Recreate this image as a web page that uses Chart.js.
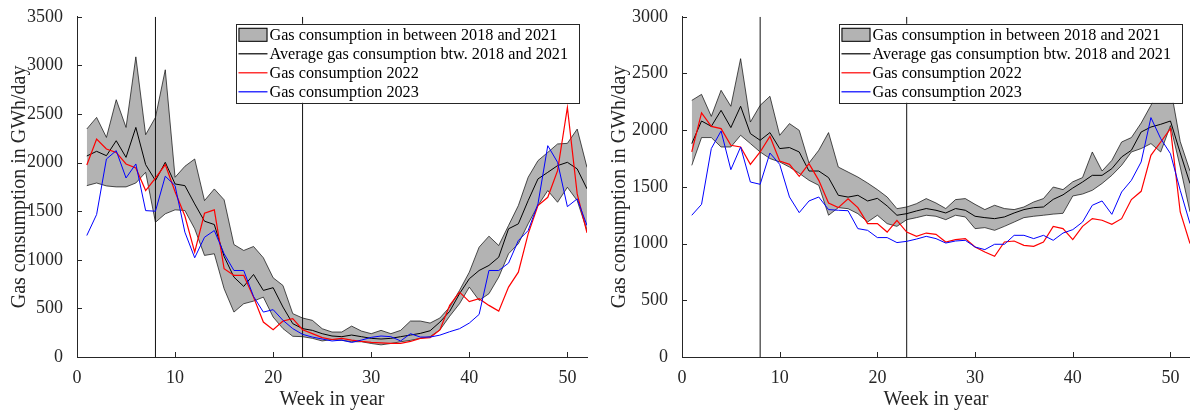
<!DOCTYPE html>
<html>
<head>
<meta charset="utf-8">
<title>Gas consumption per week</title>
<script src="https://cdn.jsdelivr.net/npm/chart.js@4.4.1/dist/chart.umd.min.js"></script>
<style>
  body { margin: 0; background: #fff; }
  #wrap { position: relative; width: 1190px; height: 412px; }
  canvas { position: absolute; top: 0; }
  #leftChart { left: 0; }
  #rightChart { left: 595px; }
</style>
</head>
<body>
<div id="wrap">
  <canvas id="leftChart" width="595" height="412"></canvas>
  <canvas id="rightChart" width="595" height="412"></canvas>
</div>
<script>
var weeks = [1, 2, 3, 4, 5, 6, 7, 8, 9, 10, 11, 12, 13, 14, 15, 16, 17, 18, 19, 20, 21, 22, 23, 24, 25, 26,
  27, 28, 29, 30, 31, 32, 33, 34, 35, 36, 37, 38, 39, 40, 41, 42, 43, 44, 45, 46, 47, 48, 49, 50, 51, 52];
var xTicks = [0, 10, 20, 30, 40, 50];
var leftYTicks = [0, 500, 1000, 1500, 2000, 2500, 3000, 3500];
var rightYTicks = [0, 500, 1000, 1500, 2000, 2500, 3000];
var markerWeeks = [8, 23];
var legendLabels = [
  "Gas consumption in between 2018 and 2021",
  "Average gas consumption btw. 2018 and 2021",
  "Gas consumption 2022",
  "Gas consumption 2023"
];

// LEFT PANEL
var leftMax = [2346, 2465, 2259, 2647, 2362, 3088, 2287, 2465, 2955, 1849, 1962, 2037, 1609, 1729, 1617, 1157, 1096, 1137, 1021, 815,
  736, 446, 401, 377, 291, 257, 257, 318, 267, 240, 274, 240, 274, 370, 370, 349, 401, 514, 685, 873,
  1130, 1243, 1147, 1353, 1558, 1849, 2020, 2105, 2192, 2198, 2345, 1951];
var leftAvg = [2068, 2116, 2071, 2225, 2054, 2362, 1979, 1815, 2003, 1780, 1763, 1575, 1397, 1363, 1034, 822, 726, 849, 685, 713,
  514, 343, 292, 274, 240, 216, 209, 226, 209, 192, 185, 192, 209, 226, 243, 270, 359, 470, 651, 805,
  890, 942, 1027, 1319, 1370, 1609, 1832, 1900, 1969, 2003, 1935, 1730];
var leftMin = [1763, 1790, 1760, 1750, 1750, 1790, 1900, 1386, 1473, 1514, 1507, 1319, 1045, 1062, 702, 462, 548, 575, 616, 411,
  292, 213, 209, 192, 165, 180, 171, 157, 157, 139, 125, 139, 157, 171, 192, 209, 278, 420, 548, 719,
  582, 651, 822, 1062, 1165, 1370, 1558, 1712, 1592, 1746, 1609, 1301];
var left2022 = [1976, 2243, 2140, 2105, 1986, 1945, 1712, 1840, 1979, 1700, 1450, 1078, 1479, 1514, 908, 839, 839, 616, 360, 281,
  370, 394, 281, 240, 200, 180, 192, 174, 160, 150, 145, 140, 140, 160, 192, 200, 278, 531, 668, 570,
  600, 531, 472, 719, 873, 1267, 1558, 1643, 1917, 2567, 1678, 1278];
var left2023 = [1250, 1466, 2037, 2123, 1842, 1986, 1506, 1500, 1860, 1763, 1284, 1021, 1232, 1301, 1062, 890, 890, 623, 462, 487,
  377, 292, 233, 205, 185, 165, 174, 150, 174, 202, 216, 209, 165, 240, 205, 205, 225, 260, 291, 349,
  438, 890, 890, 966, 1198, 1301, 1575, 2174, 2003, 1547, 1627, 1353];

// RIGHT PANEL
var rightMax = [2263, 2316, 2122, 2352, 2211, 2631, 2072, 2219, 2299, 1955, 2058, 1999, 1711, 1823, 1979, 1675, 1631, 1587, 1534, 1476,
  1411, 1308, 1323, 1352, 1397, 1358, 1309, 1388, 1397, 1346, 1300, 1338, 1309, 1300, 1323, 1367, 1397, 1499, 1476, 1545,
  1582, 1808, 1640, 1734, 1896, 1935, 2063, 2219, 2400, 2380, 1900, 1640];
var rightAvg = [1882, 2081, 2034, 2175, 2023, 2211, 1970, 1911, 1979, 1838, 1847, 1808, 1640, 1640, 1582, 1426, 1410, 1426, 1376, 1399,
  1332, 1250, 1264, 1288, 1309, 1294, 1270, 1309, 1294, 1241, 1229, 1220, 1235, 1270, 1300, 1317, 1323, 1390, 1430, 1490,
  1543, 1602, 1602, 1661, 1764, 1823, 1984, 2028, 2052, 2081, 1800, 1530];
var rightMin = [1690, 1935, 1935, 1852, 1852, 1955, 1882, 1808, 1750, 1720, 1675, 1620, 1558, 1514, 1250, 1317, 1308, 1264, 1191, 1250,
  1176, 1152, 1211, 1229, 1250, 1241, 1211, 1250, 1235, 1132, 1141, 1117, 1152, 1190, 1229, 1241, 1250, 1260, 1267, 1420,
  1437, 1470, 1530, 1602, 1690, 1808, 1838, 1882, 1808, 2040, 1675, 1280];
var right2022 = [1808, 2152, 2034, 2014, 1867, 1852, 1699, 1808, 1946, 1728, 1699, 1593, 1705, 1558, 1358, 1317, 1396, 1317, 1176, 1176,
  1102, 1205, 1102, 1064, 1093, 1082, 1014, 1035, 1044, 970, 926, 888, 1014, 1023, 985, 976, 1014, 1152, 1132, 1035,
  1152, 1220, 1206, 1170, 1220, 1388, 1461, 1778, 1896, 2014, 1279, 1000];
var right2023 = [1250, 1346, 1838, 1993, 1652, 1852, 1543, 1523, 1799, 1699, 1411, 1273, 1376, 1411, 1300, 1294, 1290, 1132, 1117, 1053,
  1053, 1009, 1020, 1040, 1064, 1044, 1005, 1023, 1029, 970, 947, 994, 994, 1073, 1073, 1044, 1073, 1029, 1093, 1123,
  1190, 1338, 1376, 1258, 1455, 1558, 1720, 2111, 1926, 1793, 1470, 1176];

var FONT = '"Liberation Serif", "Times New Roman", serif';
var AXIS_COLOR = "#262626";
var BAND_COLOR = "#b3b3b3";

function toPoints(values) {
  return weeks.map(function (w, i) { return { x: w, y: values[i] }; });
}

// MATLAB style ticks pointing into the plot
var inwardTicks = {
  id: "inwardTicks",
  afterDatasetsDraw: function (chart) {
    var ctx = chart.ctx, area = chart.chartArea;
    var xs = chart.scales.x, ys = chart.scales.y;
    ctx.save();
    ctx.strokeStyle = AXIS_COLOR;
    ctx.lineWidth = 1;
    xs.ticks.forEach(function (t) {
      var px = Math.round(xs.getPixelForValue(t.value)) + 0.5;
      ctx.beginPath();
      ctx.moveTo(px, area.bottom);
      ctx.lineTo(px, area.bottom - 5);
      ctx.stroke();
    });
    ys.ticks.forEach(function (t) {
      var py = Math.round(ys.getPixelForValue(t.value)) + 0.5;
      ctx.beginPath();
      ctx.moveTo(area.left, py);
      ctx.lineTo(area.left + 5, py);
      ctx.stroke();
    });
    ctx.restore();
  }
};

// boxed legend in the upper right corner of the plot
var boxLegend = {
  id: "boxLegend",
  afterDraw: function (chart, args, opts) {
    var ctx = chart.ctx, area = chart.chartArea;
    var items = opts.items;
    ctx.save();
    ctx.font = "16.2px " + FONT;
    var textW = 0;
    items.forEach(function (it) { textW = Math.max(textW, ctx.measureText(it.label).width); });
    var rowH = 19;
    var w = 2 + 29 + 2 + textW + 11;
    var h = rowH * items.length + 3;
    var right = area.right - 8;
    var left = right - w;
    var top = area.top + 7;
    ctx.fillStyle = "#fff";
    ctx.fillRect(left, top, w, h);
    ctx.strokeStyle = AXIS_COLOR;
    ctx.lineWidth = 1;
    ctx.strokeRect(Math.round(left) + 0.5, Math.round(top) + 0.5, Math.round(w), Math.round(h));
    items.forEach(function (it, i) {
      var cy = top + 11 + i * rowH;
      if (it.type === "patch") {
        ctx.fillStyle = BAND_COLOR;
        ctx.fillRect(left + 2, cy - 7, 29, 14);
        ctx.strokeStyle = "#000";
        ctx.strokeRect(left + 2.5, cy - 6.5, 28, 13);
      } else {
        ctx.strokeStyle = it.color;
        ctx.lineWidth = 1.2;
        ctx.beginPath();
        ctx.moveTo(left + 2, cy);
        ctx.lineTo(left + 31, cy);
        ctx.stroke();
      }
      ctx.fillStyle = "#000";
      ctx.textBaseline = "middle";
      ctx.textAlign = "left";
      ctx.fillText(it.label, left + 33, cy + 1);
    });
    ctx.restore();
  }
};

function plainTick(v) {
  return String(v);
}

function makeChart(id, yTicks, maxV, avgV, minV, v2022, v2023, yAxisWidth, titlePad, rightPad) {
  var yMax = yTicks[yTicks.length - 1];
  var markers = markerWeeks.map(function (w) {
    return {
      label: "week " + w,
      data: [{ x: w, y: 0 }, { x: w, y: yMax }],
      borderColor: "#111",
      borderWidth: 1,
      pointRadius: 0,
      fill: false,
      order: 4
    };
  });
  return new Chart(document.getElementById(id), {
    type: "line",
    data: {
      datasets: [
        {
          label: legendLabels[0],
          data: toPoints(maxV),
          borderColor: "rgba(0,0,0,0.85)",
          borderWidth: 0.8,
          pointRadius: 0,
          fill: false,
          order: 6
        },
        {
          label: "min 2018-2021",
          data: toPoints(minV),
          borderColor: "rgba(0,0,0,0.85)",
          borderWidth: 0.8,
          backgroundColor: BAND_COLOR,
          pointRadius: 0,
          fill: "-1",
          order: 5
        }
      ].concat(markers).concat([
        {
          label: legendLabels[1],
          data: toPoints(avgV),
          borderColor: "#000",
          borderWidth: 1,
          pointRadius: 0,
          fill: false,
          order: 3
        },
        {
          label: legendLabels[2],
          data: toPoints(v2022),
          borderColor: "#ff0000",
          borderWidth: 1.2,
          pointRadius: 0,
          fill: false,
          order: 2
        },
        {
          label: legendLabels[3],
          data: toPoints(v2023),
          borderColor: "#0000ff",
          borderWidth: 1,
          pointRadius: 0,
          fill: false,
          order: 1
        }
      ])
    },
    options: {
      responsive: false,
      animation: false,
      layout: { padding: { left: 0, right: rightPad, top: 16, bottom: 0 } },
      plugins: {
        legend: { display: false },
        tooltip: { enabled: false },
        filler: { drawTime: "beforeDatasetsDraw" },
        boxLegend: {
          items: [
            { label: legendLabels[0], type: "patch" },
            { label: legendLabels[1], type: "line", color: "#000" },
            { label: legendLabels[2], type: "line", color: "#ff0000" },
            { label: legendLabels[3], type: "line", color: "#0000ff" }
          ]
        }
      },
      scales: {
        x: {
          type: "linear",
          min: 0,
          max: 52,
          afterBuildTicks: function (s) { s.ticks = xTicks.map(function (v) { return { value: v }; }); },
          afterFit: function (s) { s.height = 55; },
          grid: { display: false },
          border: { display: true, color: AXIS_COLOR, width: 1 },
          ticks: { color: AXIS_COLOR, font: { family: FONT, size: 18 }, padding: 2, maxRotation: 0, callback: plainTick },
          title: {
            display: true,
            text: "Week in year",
            color: AXIS_COLOR,
            font: { family: FONT, size: 20 },
            padding: { top: 0, bottom: 0 }
          }
        },
        y: {
          min: 0,
          max: yMax,
          afterBuildTicks: function (s) { s.ticks = yTicks.map(function (v) { return { value: v }; }); },
          afterFit: function (s) { s.width = yAxisWidth; },
          grid: { display: false },
          border: { display: true, color: AXIS_COLOR, width: 1 },
          ticks: { color: AXIS_COLOR, font: { family: FONT, size: 18 }, padding: 6, callback: plainTick },
          title: {
            display: true,
            text: "Gas consumption in GWh/day",
            color: AXIS_COLOR,
            font: { family: FONT, size: 20 },
            padding: { top: titlePad, bottom: 0 }
          }
        }
      }
    },
    plugins: [inwardTicks, boxLegend]
  });
}

makeChart("leftChart", leftYTicks, leftMax, leftAvg, leftMin, left2022, left2023, 77, 8, 8);
makeChart("rightChart", rightYTicks, rightMax, rightAvg, rightMin, right2022, right2023, 87, 13, 0);
</script>
</body>
</html>
